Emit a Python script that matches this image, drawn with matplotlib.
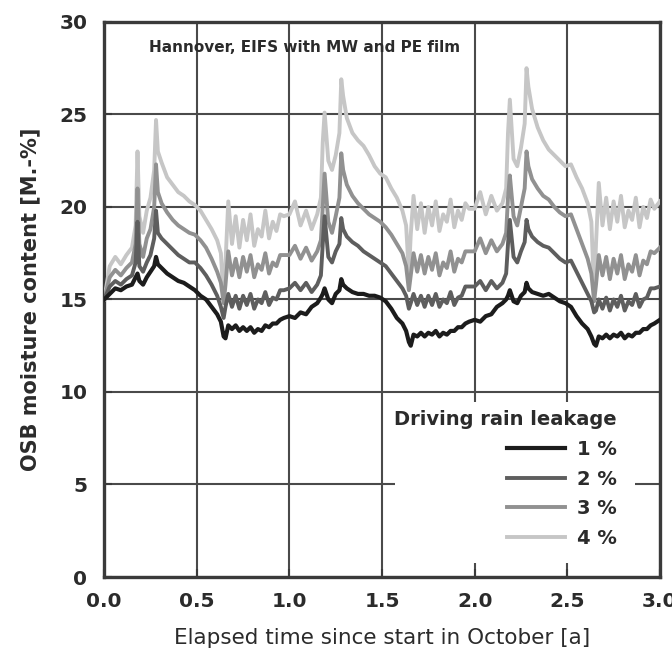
import matplotlib
matplotlib.use("Agg")
import matplotlib.pyplot as plt
from matplotlib.patches import Rectangle

# time within each year (fraction of a year), same sampling for every year
YEAR_T = [0.00, 0.03, 0.06, 0.09, 0.12, 0.15, 0.17, 0.18, 0.19, 0.21,
          0.23, 0.25, 0.27, 0.28, 0.29, 0.31, 0.34, 0.37, 0.40, 0.43,
          0.46, 0.49, 0.52, 0.55, 0.58, 0.61, 0.63, 0.645, 0.655, 0.67,
          0.69, 0.71, 0.73, 0.75, 0.77, 0.79, 0.81, 0.83, 0.85, 0.87,
          0.89, 0.91, 0.93, 0.95, 0.97]
YEARS = [0, 1, 2]
T_END = 3.0

# OSB moisture content [M.-%], one row per year
leak_1 = [
    [15.0, 15.3, 15.6, 15.5, 15.7, 15.8, 16.2, 16.4, 16.0, 15.8,
     16.2, 16.5, 16.8, 17.3, 16.9, 16.7, 16.4, 16.2, 16.0, 15.9,
     15.7, 15.5, 15.2, 15.0, 14.6, 14.2, 13.8, 13.0, 12.9, 13.6,
     13.4, 13.6, 13.3, 13.5, 13.3, 13.5, 13.2, 13.4, 13.3, 13.6,
     13.5, 13.7, 13.7, 13.9, 14.0],
    [14.1, 14.0, 14.3, 14.2, 14.6, 14.8, 15.1, 15.3, 15.6, 15.0,
     14.8, 15.3, 15.5, 16.1, 15.8, 15.6, 15.4, 15.3, 15.3, 15.2,
     15.2, 15.1, 14.9, 14.5, 14.0, 13.7, 13.3, 12.7, 12.5, 13.1,
     13.0, 13.2, 13.0, 13.2, 13.1, 13.3, 13.0, 13.2, 13.1, 13.3,
     13.3, 13.5, 13.5, 13.7, 13.8],
    [13.9, 13.8, 14.1, 14.2, 14.6, 14.8, 15.0, 15.2, 15.5, 14.9,
     14.8, 15.2, 15.4, 15.9, 15.6, 15.4, 15.3, 15.2, 15.3, 15.1,
     14.9, 14.8, 14.6, 14.1, 13.7, 13.4, 13.0, 12.6, 12.5, 13.0,
     12.9, 13.1, 12.9, 13.1, 13.0, 13.2, 12.9, 13.1, 13.0, 13.2,
     13.2, 13.4, 13.4, 13.6, 13.7],
]
leak_2 = [
    [15.0, 15.7, 16.0, 15.8, 16.1, 16.3, 17.0, 19.2, 16.8, 16.5,
     17.0, 17.4, 18.3, 19.8, 18.6, 18.3, 18.0, 17.7, 17.4, 17.2,
     17.0, 17.0, 16.7, 16.3, 15.8, 15.2, 14.6, 14.0, 14.6, 15.3,
     14.6, 15.2, 14.5, 15.2, 14.7, 15.3, 14.5, 15.0, 14.8, 15.4,
     14.7, 15.1, 15.0, 15.5, 15.5],
    [15.6, 15.9, 15.5, 15.9, 15.4, 15.8, 16.3, 18.0, 19.5, 17.3,
     17.0, 17.6, 18.0, 19.4, 18.8, 18.4, 18.1, 17.9, 17.6, 17.4,
     17.2, 17.0, 16.8, 16.4, 16.0, 15.6, 15.2, 14.5, 14.8, 15.3,
     14.7, 15.2, 14.6, 15.2, 14.7, 15.3, 14.6, 15.0, 14.8, 15.4,
     14.7, 15.1, 15.2, 15.7, 15.7],
    [15.7, 16.0, 15.5, 16.0, 15.6, 15.9, 16.4, 18.0, 19.3, 17.3,
     17.0, 17.6, 18.1, 19.3, 18.8, 18.4, 18.1, 17.9, 17.8, 17.5,
     17.2, 17.0, 17.1, 16.5, 15.9, 15.3, 14.9, 14.3, 14.4, 15.0,
     14.5, 15.1, 14.4, 15.0, 14.6, 15.2, 14.4, 14.9, 14.7, 15.3,
     14.6, 15.0, 15.1, 15.6, 15.6],
]
leak_3 = [
    [15.0, 16.2, 16.6, 16.3, 16.7, 17.0, 18.0, 21.0, 18.0, 17.3,
     18.3, 18.8, 20.0, 22.3, 20.8, 20.2, 19.7, 19.3, 19.0, 18.8,
     18.6, 18.5, 18.2, 17.8, 17.2, 16.5, 15.9, 14.8, 15.8, 17.6,
     16.3, 17.2, 16.2, 17.3, 16.5, 17.4, 16.2, 16.9, 16.6, 17.5,
     16.4, 17.0, 16.8, 17.4, 17.4],
    [17.4, 17.9, 17.2, 17.8, 17.1, 17.6, 18.2, 20.0, 21.8, 19.2,
     18.6, 19.5, 20.5, 22.9, 22.0, 21.2, 20.6, 20.2, 19.9, 19.6,
     19.4, 19.2, 18.9, 18.5, 18.0, 17.5, 16.8, 15.5, 16.3, 17.5,
     16.5, 17.4, 16.4, 17.3, 16.6, 17.5, 16.3, 17.0, 16.7, 17.6,
     16.5, 17.2, 17.0, 17.6, 17.6],
    [17.6, 18.3, 17.5, 18.2, 17.6, 18.0, 18.6, 20.5, 21.7, 19.5,
     19.0, 20.0, 21.0, 23.0, 22.2, 21.5, 21.0, 20.6, 20.4, 20.0,
     19.7, 19.5, 19.6, 18.8, 18.0, 17.2, 16.4, 14.9, 15.8, 17.4,
     16.3, 17.3, 16.1, 17.2, 16.4, 17.4, 16.1, 16.9, 16.5, 17.4,
     16.3, 17.1, 16.9, 17.6, 17.5],
]
leak_4 = [
    [15.0, 16.8, 17.3, 16.9, 17.4, 17.8, 19.0, 23.0, 19.5, 18.6,
     19.8, 20.5, 22.0, 24.7, 23.0, 22.4, 21.6, 21.2, 20.8, 20.6,
     20.3, 20.1, 19.8, 19.3, 18.8, 18.2, 17.5, 15.0, 17.0, 20.3,
     18.0, 19.5, 17.8, 19.3, 18.2, 19.6, 17.9, 18.8, 18.4, 19.8,
     18.3, 19.2, 18.7, 19.6, 19.5],
    [19.6, 20.3, 19.0, 19.8, 18.8, 19.6, 20.5, 23.5, 25.1, 22.5,
     22.0, 22.8, 24.0, 26.9, 26.0, 24.8, 24.0, 23.6, 23.3, 22.8,
     22.2, 21.8, 21.6, 21.0, 20.5, 19.8, 19.0, 16.4, 18.5, 20.6,
     18.8, 20.2, 18.6, 20.0, 19.0, 20.3, 18.7, 19.6, 19.2, 20.4,
     18.9, 19.8, 19.3, 20.2, 19.9],
    [19.9, 20.8, 19.6, 20.6, 19.8, 20.2, 21.0, 24.0, 25.8, 22.6,
     22.2, 23.2, 24.5, 27.5, 26.5, 25.3, 24.3, 23.6, 23.1, 22.8,
     22.5, 22.2, 22.3, 21.6, 21.0, 20.2, 19.2, 15.3, 18.0, 21.3,
     19.0, 20.5, 18.8, 20.3, 19.2, 20.6, 18.9, 19.8, 19.3, 20.5,
     18.9, 20.0, 19.4, 20.4, 19.9],
]
END_VALUES = [13.9, 15.7, 17.8, 20.3]

LABELS = ["1 %", "2 %", "3 %", "4 %"]
COLORS = ["#1c1c1c", "#5e5e5e", "#919191", "#c6c6c6"]
WIDTHS = [3.0, 2.8, 2.8, 2.8]

TEXT = "#2b2b2b"
AXIS = "#3a3a3a"

plt.rcParams.update({
    "font.family": ["DejaVu Sans"],
    "font.size": 14,
    "font.weight": "bold",
    "axes.labelweight": "bold",
})


def stitch(rows):
    xs, ys = [], []
    for year, row in zip(YEARS, rows):
        xs += [year + t for t in YEAR_T]
        ys += row
    return xs, ys


fig = plt.figure(figsize=(6.72, 6.64), dpi=100)
ax = fig.add_axes([0.155, 0.131, 0.827, 0.836])

series = [leak_1, leak_2, leak_3, leak_4]
# light lines first so the dark ones sit on top
for i in reversed(range(4)):
    xs, ys = stitch(series[i])
    xs.append(T_END)
    ys.append(END_VALUES[i])
    ax.plot(xs, ys, color=COLORS[i], lw=WIDTHS[i], label=LABELS[i],
            zorder=3 + (3 - i))

ax.set_xlim(0, 3.0)
ax.set_ylim(0, 30)
ax.set_xticks([0.0, 0.5, 1.0, 1.5, 2.0, 2.5, 3.0])
ax.set_xticklabels(["0.0", "0.5", "1.0", "1.5", "2.0", "2.5", "3.0"])
ax.set_yticks([0, 5, 10, 15, 20, 25, 30])

ax.grid(True, color="#4a4a4a", lw=1.5)
ax.set_axisbelow(True)
ax.tick_params(direction="in", length=6, width=1.5, color=AXIS,
               labelsize=14.5, labelcolor=TEXT)
ax.tick_params(axis="x", pad=11)
ax.tick_params(axis="y", pad=12)
for sp in ax.spines.values():
    sp.set_color(AXIS)
    sp.set_linewidth(2.4)

ax.set_xlabel("Elapsed time since start in October [a]", fontsize=15.5,
              color=TEXT, labelpad=12, fontweight="normal")
ax.set_ylabel("OSB moisture content [M.-%]", fontsize=15, color=TEXT,
              labelpad=14)

ax.text(0.24, 28.6, "Hannover, EIFS with MW and PE film", fontsize=11,
        color=TEXT, va="center", ha="left", zorder=10)

# white patch behind the legend hides the grid there
ax.add_patch(Rectangle((0.523, 0.025), 0.432, 0.29, transform=ax.transAxes,
                       facecolor="white", edgecolor="none", zorder=2))

handles, labels = ax.get_legend_handles_labels()
order = [labels.index(l) for l in LABELS]
leg = ax.legend([handles[k] for k in order], LABELS,
                loc="upper right", bbox_to_anchor=(0.94, 0.318),
                title="Driving rain leakage", title_fontsize=14,
                fontsize=14, alignment="right", handlelength=3.0,
                handletextpad=0.6, labelspacing=0.55, borderpad=0.0,
                frameon=False)
leg.get_title().set_fontweight("bold")
leg.get_title().set_color(TEXT)
for txt in leg.get_texts():
    txt.set_color(TEXT)
leg.set_zorder(20)

fig.savefig("out.png", dpi=100)
